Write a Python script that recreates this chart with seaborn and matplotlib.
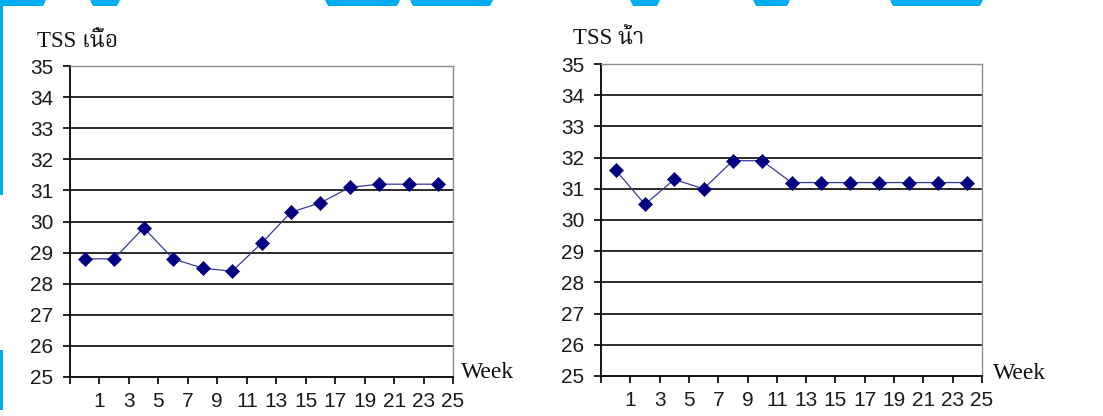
import numpy as np
import pandas as pd
import matplotlib
matplotlib.use("Agg")
import matplotlib.pyplot as plt
from matplotlib import font_manager
from matplotlib.ft2font import FT2Font
from matplotlib.patches import Polygon, Rectangle
import seaborn as sns

# ---- data -------------------------------------------------------------
weeks = [0, 2, 4, 6, 8, 10, 12, 14, 16, 18, 20, 22, 24]
tss_flesh = [28.8, 28.8, 29.8, 28.8, 28.5, 28.4, 29.3, 30.3, 30.6, 31.1, 31.2, 31.2, 31.2]
tss_juice = [31.6, 30.5, 31.3, 31.0, 31.9, 31.9, 31.2, 31.2, 31.2, 31.2, 31.2, 31.2, 31.2]
x_tick_labels = ["", "1", "3", "5", "7", "9", "11", "13", "15", "17", "19", "21", "23", "25"]
y_ticks = [25, 26, 27, 28, 29, 30, 31, 32, 33, 34, 35]
titles = ["TSS เนื้อ", "TSS น้ำ"]
x_label = "Week"

sns.set_theme(style="white")


def font_with(chars, preferred):
    """Return the first installed family covering all chars, preferring the given names."""
    found = {}
    for fe in font_manager.fontManager.ttflist:
        try:
            cmap = FT2Font(fe.fname).get_charmap()
        except Exception:
            continue
        if all(ord(c) in cmap for c in chars):
            found.setdefault(fe.name, fe.fname)
    for name in preferred:
        if name in found:
            return name
    return sorted(found)[0] if found else None


thai_family = font_with("เนื้อน้ำ", ["Noto Serif Thai", "Loma", "Noto Sans Thai",
                                      "Garuda", "Tlwg Typo", "DejaVu Serif", "DejaVu Sans"])
serif_fams = ["Liberation Serif"] + ([thai_family] if thai_family else []) + ["DejaVu Serif"]
sans_fams = ["Liberation Sans", "DejaVu Sans"]
plt.rcParams["font.family"] = sans_fams

df = pd.DataFrame({"week": weeks + weeks,
                   "tss": tss_flesh + tss_juice,
                   "part": ["flesh"] * len(weeks) + ["juice"] * len(weeks)})

fig = plt.figure(figsize=(11.03, 4.16), dpi=100)
fig.patch.set_facecolor("white")

W, H = 1103, 416
# axes rectangles in pixels: (left, top, right, bottom)
boxes = [(70, 66, 453, 377), (601, 64, 982, 376)]
title_pos = [(37, 47), (573, 44)]
week_pos = [(461, 378), (993, 379)]

for i, (part, box) in enumerate(zip(["flesh", "juice"], boxes)):
    l, t, r, b = box
    ax = fig.add_axes([l / W, (H - b) / H, (r - l) / W, (b - t) / H])
    ax.set_facecolor("white")
    sub = df[df["part"] == part]
    sns.lineplot(data=sub, x="week", y="tss", ax=ax, color="#3A3A9E", linewidth=0.9,
                 marker="D", markersize=7, markerfacecolor="#000080",
                 markeredgecolor="#000080", markeredgewidth=0.5, zorder=5)
    ax.set_xlim(-1, 25)
    ax.set_ylim(25, 35)
    ax.set_xticks(np.arange(-1, 26, 2))
    ax.set_xticklabels(x_tick_labels)
    ax.set_yticks(y_ticks)
    ax.set_yticklabels([str(v) for v in y_ticks])
    for v in y_ticks[1:-1]:
        ax.axhline(v, color="#1a1a1a", linewidth=1.3, zorder=1)
    ax.set_xlabel("")
    ax.set_ylabel("")
    ax.tick_params(axis="both", direction="out", length=5, width=1.2, color="black",
                   labelsize=15, labelcolor="#1a1a1a")
    ax.tick_params(axis="x", pad=6, bottom=True)
    ax.tick_params(axis="y", pad=7, left=True)
    for side in ["left", "bottom"]:
        ax.spines[side].set_color("black")
        ax.spines[side].set_linewidth(1.3)
    for side in ["top", "right"]:
        ax.spines[side].set_color("#8c8c8c")
        ax.spines[side].set_linewidth(1.0)
    for s in ax.spines.values():
        s.set_visible(True)

    tx, ty = title_pos[i]
    fig.text(tx / W, (H - ty) / H, titles[i], family=serif_fams, fontsize=16.5,
             ha="left", va="baseline", color="#111111")
    wx, wy = week_pos[i]
    fig.text(wx / W, (H - wy) / H, x_label, family=serif_fams, fontsize=17,
             ha="left", va="baseline", color="#111111")

# slide background peeking in at the top and left edges
cyan = "#00AEEF"
for x0, x1 in [(0, 46), (90, 120), (325, 400), (410, 493), (630, 660), (753, 790), (890, 983)]:
    fig.patches.append(Polygon([(x0 / W, 1), (x1 / W, 1), ((x1 - 3) / W, (H - 6) / H),
                                ((x0 + 3) / W, (H - 6) / H)], closed=True,
                               transform=fig.transFigure, facecolor=cyan,
                               edgecolor="none", zorder=0))
fig.patches.append(Rectangle((0, (H - 195) / H), 3 / W, 195 / H, transform=fig.transFigure,
                             facecolor=cyan, edgecolor="none", zorder=0))
fig.patches.append(Rectangle((0, (H - 410) / H), 3 / W, 60 / H, transform=fig.transFigure,
                             facecolor=cyan, edgecolor="none", zorder=0))

fig.savefig("out.png", dpi=100, facecolor="white")
